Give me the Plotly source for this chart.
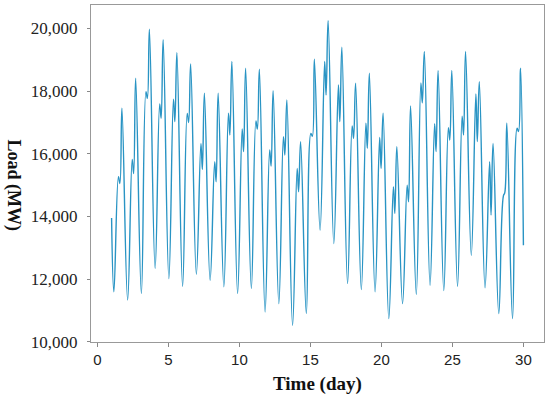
import plotly.graph_objects as go

# Hourly-load features per daily cycle (30 cycles spread over x = 1..30)
trough = [11590, 11330, 11540, 12335, 12015, 11770, 12155, 11963, 11750, 11540,
          11700, 10950, 11216, 10524, 10897, 13561, 13135, 11856, 11664, 11590,
          10737, 11216, 11510, 11802, 11630, 11770, 12762, 11720, 10897, 10737]
hump = [15270, 15820, 17985, 17590, 17740, 17290, 16333, 15747, 17293, 16790,
        17050, 16120, 16547, 15534, 16650, 18945, 18199, 16888, 16973, 16525,
        14947, 15000, 18265, 16960, 16834, 17200, 17911, 15747, 14650, 16813]
notch = [15050, 15370, 17770, 17130, 17025, 17000, 15500, 15107, 16600, 16067,
         16786, 15608, 15960, 14788, 16560, 17879, 17026, 16493, 16173, 15534,
         14095, 14468, 17626, 16067, 16440, 16600, 16387, 14042, 14760, 16706]
spike = [17453, 18410, 19980, 19640, 19230, 18870, 17932, 17932, 18945, 18732,
         18700, 18017, 17720, 16387, 19020, 20256, 19403, 18252, 18572, 17293,
         16227, 17527, 19265, 18657, 18657, 19265, 18305, 16333, 16973, 18732]
feature_hours = [4, 12, 14.5, 18]   # hour of day of trough, hump, notch, spike
start_value = 13950
end_value = 13082
n_hours = 720
x_first, x_last = 1, 30

xs, ys = [], []
def add(hour_index, val):
    xs.append(x_first + (x_last - x_first) * hour_index / (n_hours - 1))
    ys.append(val)

add(0, start_value)
for c in range(len(trough)):
    vals = [trough[c], hump[c], notch[c], spike[c]]
    for h, v in zip(feature_hours, vals):
        add(24 * c + h, v)
add(n_hours - 1, end_value)

fig = go.Figure()
fig.add_trace(go.Scatter(x=xs, y=ys, mode="lines",
                         line=dict(color="#2994c4", width=1.4, shape="spline", smoothing=1.2),
                         hoverinfo="skip"))

fig.update_layout(
    width=550, height=398,
    margin=dict(l=91, r=6, t=5, b=56),
    plot_bgcolor="white", paper_bgcolor="white",
    showlegend=False,
    xaxis=dict(range=[-0.45, 31.45], tickvals=[0, 5, 10, 15, 20, 25, 30],
               ticks="outside", ticklen=4, tickcolor="#888",
               showline=True, mirror=True, linecolor="#999", linewidth=1,
               showgrid=False, zeroline=False,
               tickfont=dict(family="Liberation Sans, Arial", size=15, color="#222")),
    yaxis=dict(range=[9990, 20750], tick0=10000, dtick=2000, tickformat=",d",
               ticks="outside", ticklen=3, tickcolor="#888",
               showline=True, mirror=True, linecolor="#999", linewidth=1,
               showgrid=False, zeroline=False, ticklabelstandoff=6,
               tickfont=dict(family="Liberation Serif, Times New Roman", size=17, color="#222")),
    annotations=[
        dict(text="<b>Time (day)</b>", xref="paper", yref="paper", x=0.5, y=-0.125,
             xanchor="center", yanchor="middle", showarrow=False,
             font=dict(family="Liberation Serif, Times New Roman", size=19, color="#111")),
        dict(text="<b>Load (MW)</b>", xref="paper", yref="paper", x=-0.171, y=0.466,
             xanchor="center", yanchor="middle", showarrow=False, textangle=90,
             font=dict(family="Liberation Serif, Times New Roman", size=18, color="#111")),
    ],
)

fig.write_html("out.html", config={"displayModeBar": False},
               post_script="document.body.style.margin='0';")
